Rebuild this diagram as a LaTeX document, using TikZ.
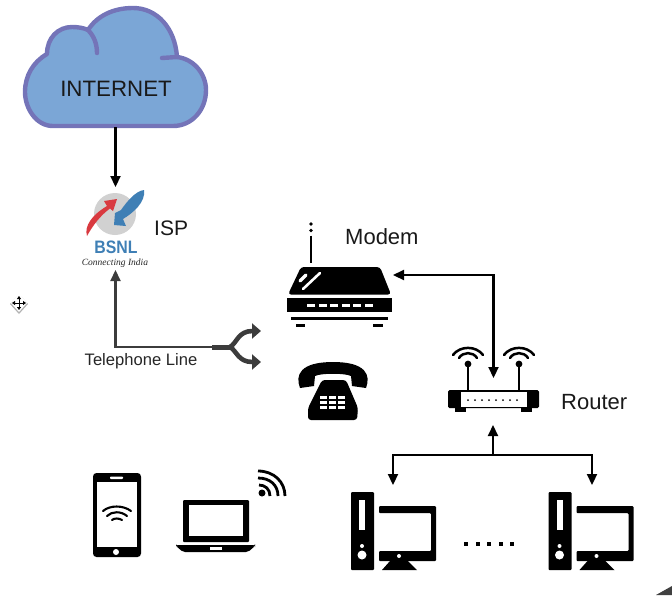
\documentclass[tikz,border=0pt]{standalone}
\usepackage{fontspec}
\setmainfont{Liberation Sans}
\newfontfamily\handfont{Liberation Serif}
\usetikzlibrary{arrows.meta}
\definecolor{cloudfill}{HTML}{7BA6D6}
\definecolor{cloudline}{HTML}{7474B8}
\definecolor{bsnlblue}{HTML}{3F7FB5}
\definecolor{bsnlred}{HTML}{D93A40}
\definecolor{inkgray}{HTML}{3C3C3C}
\tikzset{
  link/.style={line width=2.2pt,black},
  tipped/.style={-{Triangle[length=11pt,width=10pt]}},
  bothtipped/.style={{Triangle[length=11pt,width=10pt]}-{Triangle[length=11pt,width=10pt]}},
  splithead/.style={-{Triangle[length=9pt,width=15pt]}},
  icon/.style={fill=black,draw=none},
  hole/.style={fill=white,draw=none},
  wave/.style={line width=2.5pt,black,line cap=round},
  textlabel/.style={inner sep=0pt,text=black!90,font=\fontsize{22}{24}\selectfont},
  pics/wifi/.style={code={
    \fill[black] (0,1) circle (3.4);
    \draw[wave] (-9,-5) .. controls (-5,-11.5) and (5,-11.5) .. (9,-5);
    \draw[wave] (-15,-8) .. controls (-8,-17.5) and (8,-17.5) .. (15,-8);
  }},
  pics/computer/.style={code={
    \fill[icon,rounded corners=1] (351,492) rectangle (374,570);
    \fill[hole] (359,500) rectangle (365,530);
    \fill[hole] (362,546) circle (2);
    \fill[hole] (362,555) circle (4.5);
    \fill[icon,rounded corners=1] (379,506) -- (436,506) -- (436,561) -- (379,561) -- (379,551) -- (431,551) -- (431,513) -- (379,513) -- cycle;
    \fill[icon] (390,561) -- (408,561) -- (417,570) -- (382,570) -- cycle;
    \fill[hole] (399,556) circle (2);
  }}
}
\begin{document}
\begin{tikzpicture}[x=1pt,y=-1pt]
\useasboundingbox (0,0) rectangle (672,595);
% cloud
\draw[line width=4.4pt,cloudline,fill=cloudfill,line join=round]
  (53,126) .. controls (36,126) and (25,108) .. (25,92)
  .. controls (25,76) and (33,62) .. (47,54)
  .. controls (47,38) and (58,27) .. (72,27)
  .. controls (78,27) and (84,28) .. (88,30)
  .. controls (97,16) and (113,8) .. (133,8)
  .. controls (157,8) and (175,28) .. (177,57)
  .. controls (194,59) and (206,74) .. (206,90)
  .. controls (206,110) and (192,126) .. (173,126) -- cycle;
\draw[line width=4.4pt,cloudline,line cap=round] (88,30) .. controls (94,36) and (97,44) .. (97,53);
\draw[line width=4.4pt,cloudline,line cap=round] (177,57) -- (162,58);
\node[inner sep=0pt,text=black!90,font=\fontsize{22.3}{24}\selectfont] (internet) at (116,89) {INTERNET};
\coordinate (cloudbottom) at (115.5,127);
% BSNL logo
\fill[black!18] (115,214) circle (21);
\fill[bsnlred] (87,236) .. controls (84,226) and (92,215) .. (107,206) -- (104,201) -- (117,199) -- (113,211) -- (110,208.5) .. controls (101,215) and (93,225) .. (87,236) -- cycle;
\fill[bsnlblue] (144,190) .. controls (136,191) and (128,200) .. (121,210) -- (115,213) -- (114,225) -- (126,226) -- (123,219) .. controls (133,213) and (146,202) .. (144,190) -- cycle;
\node[inner sep=0pt,text=bsnlblue,font=\bfseries\fontsize{18}{18}\selectfont,xscale=.88] (bsnl) at (116,247.5) {BSNL};
\node[inner sep=0pt,text=black!85,font=\handfont\itshape\fontsize{9.5}{10}\selectfont] (tagline) at (115,263) {Connecting India};
\coordinate (isptop) at (115.5,187);
\coordinate (ispbottom) at (115.5,270);
\node[textlabel,anchor=west,font=\fontsize{21}{24}\selectfont] (isp) at (154,228) {ISP};
\draw[link,tipped] (cloudbottom) -- (isptop);
% telephone line
\coordinate (linecorner) at (115.5,347);
\coordinate (splitin) at (212,347);
\coordinate (splitmid) at (230,347);
\coordinate (splitup) at (261,331);
\coordinate (splitdown) at (261,362);
\draw[line width=2.2pt,inkgray,{Triangle[length=11pt,width=10pt]}-] (ispbottom) -- (linecorner) -- (splitin);
\draw[line width=5pt,inkgray] (splitin) -- (splitmid);
\draw[line width=4.6pt,inkgray,splithead] (splitmid) .. controls (237,343) and (238,331) .. (splitup);
\draw[line width=4.6pt,inkgray,splithead] (splitmid) .. controls (237,351) and (238,362) .. (splitdown);
\node[inner sep=0pt,text=black!85,font=\fontsize{16.6}{18}\selectfont] (telline) at (141,361.5) {Telephone Line};
% move cursor
\fill[black!30] (19,294) -- (28,304) -- (19,314) -- (10,304) -- cycle;
\fill[white] (19,293) -- (27,303) -- (19,312) -- (11,303) -- cycle;
\draw[line width=.9pt,-{Triangle[length=3pt,width=4pt]}] (19,303) -- (19,296);
\draw[line width=.9pt,-{Triangle[length=3pt,width=4pt]}] (19,303) -- (19,310);
\draw[line width=.9pt,-{Triangle[length=3pt,width=4pt]}] (19,303) -- (12,303);
\draw[line width=.9pt,-{Triangle[length=3pt,width=4pt]}] (19,303) -- (26,303);
% modem
\draw[line width=2.3pt] (311,235.5) -- (311,263);
\fill (311,224) circle (1.9);
\fill (311,230.5) circle (1.9);
\fill[icon,rounded corners=3] (288,294.5) -- (301,267) -- (380,267) -- (391,294.5) -- cycle;
\fill[icon] (287,298) rectangle (392,312);
\draw[white,line width=2.6pt,line cap=round] (303,289) -- (320,273);
\draw[white,line width=3.2pt,line cap=round] (300,281) -- (306,275);
\foreach \x in {307,318.5,330,341.5,353,364.5} \fill[hole] (\x,303.5) rectangle ++(8,3.5);
\fill[icon] (291,317) rectangle (388,320);
\fill[icon] (296,324) rectangle (305,327);
\fill[icon] (373,324) rectangle (383,327);
\node[textlabel,anchor=west] (modem) at (345,237) {Modem};
\coordinate (modemright) at (393,275);
\coordinate (elbow) at (493.5,275);
\coordinate (routertop) at (493.5,378);
\draw[link,bothtipped] (modemright) -- (elbow) -- (routertop);
% phone
\fill[icon] (300,388) .. controls (295,375) and (300,362) .. (333,362) .. controls (366,362) and (371,375) .. (366,388) -- (352,386) -- (351,376) .. controls (345,373) and (321,373) .. (315,376) -- (314,386) -- cycle;
\fill[icon,rounded corners=3] (322,380) -- (346,380) -- (358,408) -- (357,420) -- (308,420) -- (308,408) -- cycle;
\foreach \y in {396,401,406} \foreach \x in {320,329,338} \fill[hole] (\x,\y) rectangle ++(7,3.4);
% router
\draw[line width=2.2pt] (468,363) -- (468,392);
\draw[line width=2.2pt] (519,363) -- (519,392);
\pic at (468,363) {wifi};
\pic at (519,363) {wifi};
\fill[icon,rounded corners=1.5] (448,390) rectangle (539,408);
\fill[icon] (455,408) rectangle (466,412);
\fill[icon] (521,408) rectangle (532,412);
\fill[hole] (461,392) rectangle (527,407);
\foreach \x in {468,475,482,489,496,503,510,517} \fill (\x,400) circle (1);
\node[textlabel,anchor=west] (router) at (561,402) {Router};
% router tree
\coordinate (routerbottom) at (493,425);
\coordinate (bus) at (493,455);
\coordinate (busleft) at (393,455);
\coordinate (busright) at (592,455);
\coordinate (pcleft) at (393,485);
\coordinate (pcright) at (592,485);
\draw[link,tipped] (bus) -- (routerbottom);
\draw[link,tipped] (bus) -- (busleft) -- (pcleft);
\draw[link,tipped] (bus) -- (busright) -- (pcright);
% computers
\pic at (0,0) {computer};
\pic at (197.5,0) {computer};
\foreach \x in {464,475.5,487,498.5,510} \fill (\x,542) rectangle ++(4,4);
% mobile
\fill[icon,rounded corners=3.5] (93,473) rectangle (141,557);
\fill[hole] (97,482) rectangle (137,547);
\fill[hole,rounded corners=.8] (110,476.5) rectangle (123,479);
\fill[hole] (116,552) circle (3);
\draw[wave,line width=2.1pt] (103,511) .. controls (110,505) and (123,505) .. (131,511);
\draw[wave,line width=2.1pt] (107,516) .. controls (112,511) and (121,511) .. (127,516);
\draw[wave,line width=2.1pt] (112,520) .. controls (114,518) and (119,518) .. (122,520);
% laptop
\fill[icon,rounded corners=1] (183,500) rectangle (249,542);
\fill[hole] (189,505) rectangle (243,536);
\fill[icon,rounded corners=2] (176,545) -- (255,545) -- (255,546) -- (248,552) -- (183,552) -- (176,546) -- cycle;
\fill[hole] (210,547) rectangle (222,550);
% wifi signal
\fill (262,493) circle (3.5);
\draw[line width=2.8pt] (259,485) .. controls (265,485) and (270,489) .. (270,496);
\draw[line width=2.8pt] (258,478) .. controls (270,478) and (278,485) .. (278,496);
\draw[line width=2.8pt] (258,471) .. controls (274,471) and (285,482) .. (285,496);
% corner wedge
\fill[black!75] (656,595) -- (672,586) -- (672,595) -- cycle;
\end{tikzpicture}
\end{document}
